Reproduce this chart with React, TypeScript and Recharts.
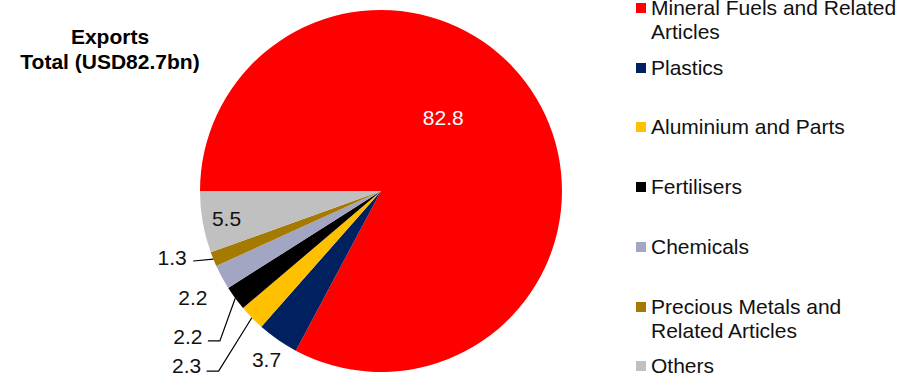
import { PieChart, Pie, Cell, Legend } from 'recharts';

const categories = [
  'Mineral Fuels and Related Articles',
  'Plastics',
  'Aluminium and Parts',
  'Fertilisers',
  'Chemicals',
  'Precious Metals and Related Articles',
  'Others',
];
const shares = [82.8, 3.7, 2.3, 2.2, 2.2, 1.3, 5.5];
const colors = ['#FF0000', '#002060', '#FFC000', '#000000', '#A3A6C2', '#A57A00', '#C0C0C0'];
// legend text split as in the original
const legendLines = [
  ['Mineral Fuels and Related', 'Articles'],
  ['Plastics'],
  ['Aluminium and Parts'],
  ['Fertilisers'],
  ['Chemicals'],
  ['Precious Metals and', 'Related Articles'],
  ['Others'],
];

const data = categories.map((name, i) => ({ name, value: shares[i] }));

const FONT = '"Liberation Sans", Arial, sans-serif';
const FS = 21;
const RAD = Math.PI / 180;

// label placement: radius from centre and angle shift vs. slice middle
const labelPos = [
  { r: 96, shift: 18.6, leader: 0 },
  { r: 204, shift: 0.6, leader: 0 },
  { r: 261, shift: -2.6, leader: 2 },
  { r: 242, shift: 0.7, leader: 2 },
  { r: 216, shift: 1.0, leader: 0 },
  { r: 219, shift: -4.6, leader: 1 },
  { r: 157, shift: 0.3, leader: 0 },
];

function renderLabel(props: any) {
  const { cx, cy, midAngle, outerRadius, index, value } = props;
  const p = labelPos[index];
  const a = (midAngle + p.shift) * RAD;
  const x = cx + p.r * Math.cos(a);
  const y = cy - p.r * Math.sin(a);
  const ex = cx + outerRadius * Math.cos(midAngle * RAD);
  const ey = cy - outerRadius * Math.sin(midAngle * RAD);
  let path = '';
  if (p.leader === 2) {
    const ly = y + (index === 2 ? 6 : 4);
    path = `M${x + 20},${ly} L${x + 32},${ly} L${ex},${ey}`;
  } else if (p.leader === 1) {
    path = `M${x + 21},${y + 4} L${ex},${ey}`;
  }
  return (
    <g key={`lbl-${index}`}>
      {path && <path d={path} stroke="#000" strokeWidth={1.2} fill="none" />}
      <text
        x={x}
        y={y}
        textAnchor="middle"
        dominantBaseline="central"
        fill={index === 0 ? '#FFFFFF' : '#111'}
        fontSize={FS}
        fontFamily={FONT}
      >
        {value.toFixed(1)}
      </text>
    </g>
  );
}

function LegendBox() {
  return (
    <div style={{ position: 'relative', width: 276, height: 374, fontFamily: FONT, fontSize: FS, color: '#111' }}>
      {legendLines.map((lines, i) => (
        <div key={categories[i]} style={{ position: 'absolute', left: 0, top: i * 59.7 - 4 }}>
          <div style={{ position: 'absolute', left: 0, top: 7, width: 10, height: 10, background: colors[i] }} />
          <div style={{ position: 'absolute', left: 15, top: 0, lineHeight: '24px', whiteSpace: 'nowrap' }}>
            {lines.map(l => (
              <div key={l}>{l}</div>
            ))}
          </div>
        </div>
      ))}
    </div>
  );
}

export default function App() {
  return (
    <div style={{ position: 'absolute', left: 0, top: 0, width: 912, height: 374, background: '#fff', overflow: 'hidden' }}>
      <div
        style={{
          position: 'absolute',
          left: 10,
          top: 24,
          width: 200,
          textAlign: 'center',
          fontFamily: FONT,
          fontWeight: 'bold',
          fontSize: FS,
          lineHeight: '25px',
          color: '#000',
        }}
      >
        <div>Exports</div>
        <div>Total (USD82.7bn)</div>
      </div>
      <PieChart width={912} height={374} margin={{ top: 0, right: 0, bottom: 0, left: 0 }}>
        <Pie
          data={data}
          dataKey="value"
          nameKey="name"
          cx={381}
          cy={191}
          outerRadius={181}
          startAngle={180}
          endAngle={-180}
          stroke="none"
          label={renderLabel}
          labelLine={false}
          isAnimationActive={false}
        >
          {data.map((d, i) => (
            <Cell key={d.name} fill={colors[i]} />
          ))}
        </Pie>
        <Legend
          layout="vertical"
          verticalAlign="top"
          align="right"
          content={() => <LegendBox />}
          wrapperStyle={{ left: 636, top: 0, width: 276, height: 374 }}
        />
      </PieChart>
    </div>
  );
}
